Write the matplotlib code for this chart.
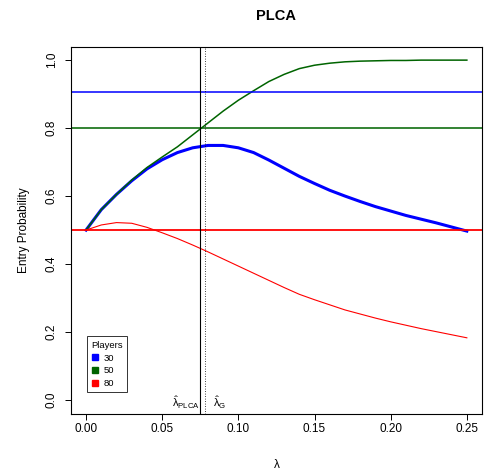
import numpy as np
import matplotlib.pyplot as plt
from matplotlib.lines import Line2D

plt.rcParams['font.family'] = ['Liberation Sans', 'DejaVu Sans']
plt.rcParams['mathtext.fontset'] = 'custom'
plt.rcParams['mathtext.rm'] = 'Liberation Sans'
plt.rcParams['mathtext.it'] = 'Liberation Sans'
plt.rcParams['mathtext.default'] = 'regular'

# lambda grid and entry probabilities
lam = [0.00, 0.01, 0.02, 0.03, 0.04, 0.05, 0.06, 0.07, 0.08, 0.09,
       0.10, 0.11, 0.12, 0.13, 0.14, 0.15, 0.16, 0.17, 0.18, 0.19,
       0.20, 0.21, 0.22, 0.23, 0.24, 0.25]
p30 = [0.500, 0.560, 0.605, 0.645, 0.680, 0.707, 0.728, 0.742, 0.749, 0.749,
       0.742, 0.728, 0.706, 0.682, 0.658, 0.637, 0.617, 0.600, 0.584, 0.569,
       0.556, 0.543, 0.532, 0.521, 0.509, 0.497]
p50 = [0.500, 0.560, 0.605, 0.647, 0.684, 0.715, 0.745, 0.780, 0.815, 0.850,
       0.882, 0.910, 0.937, 0.958, 0.975, 0.985, 0.991, 0.995, 0.997, 0.998,
       0.999, 0.999, 1.000, 1.000, 1.000, 1.000]
p80 = [0.500, 0.515, 0.522, 0.520, 0.508, 0.492, 0.475, 0.456, 0.436, 0.415,
       0.394, 0.373, 0.352, 0.331, 0.311, 0.295, 0.280, 0.265, 0.253, 0.241,
       0.230, 0.220, 0.210, 0.201, 0.192, 0.183]

# horizontal reference levels per player count
h30, h50, h80 = 0.906, 0.8, 0.5
lam_plca = 0.075
lam_g = 0.078

players = ['30', '50', '80']
colors = ['blue', 'darkgreen', 'red']

fig = plt.figure(figsize=(4.85, 4.7), dpi=100)
ax = fig.add_axes([0.146, 0.12, 0.848, 0.781])

ax.plot(lam, p30, color='blue', lw=2.2)
ax.plot(lam, p50, color='darkgreen', lw=1.1)
ax.plot(lam, p80, color='red', lw=0.8)

ax.axhline(h30, color='blue', lw=1.1)
ax.axhline(h50, color='darkgreen', lw=1.4, alpha=0.8)
ax.axhline(h80, color='red', lw=1.3)

ax.axvline(lam_plca, color='black', lw=0.8)
ax.axvline(lam_g, color='black', lw=0.6, ls=(0, (1, 2)))

ax.text(lam_plca, -0.02, r'$\hat{\lambda}_{PLCA}$', ha='right', va='baseline', fontsize=8)
ax.annotate(r'$\hat{\lambda}_{G}$', xy=(lam_g, -0.02), xytext=(6, 0), textcoords='offset points',
            ha='left', va='baseline', fontsize=8)

ax.set_xlim(-0.01, 0.26)
ax.set_ylim(-0.04, 1.04)
ax.set_xticks([0.0, 0.05, 0.10, 0.15, 0.20, 0.25])
ax.set_xticklabels(['0.00', '0.05', '0.10', '0.15', '0.20', '0.25'])
ax.set_yticks([0.0, 0.2, 0.4, 0.6, 0.8, 1.0])
ax.set_yticklabels(['0.0', '0.2', '0.4', '0.6', '0.8', '1.0'], rotation=90, va='center')
ax.tick_params(axis='both', direction='out', length=4.5, width=0.7, labelsize=8.5)
ax.tick_params(axis='x', pad=2)
ax.tick_params(axis='y', pad=5)
for s in ax.spines.values():
    s.set_linewidth(0.8)

ax.set_xlabel(r'$\lambda$', fontsize=8.5, labelpad=17)
ax.set_ylabel('Entry Probability', fontsize=8.5, labelpad=11)
ax.set_title('PLCA', fontweight='bold', fontsize=10.5, pad=19)

handles = [Line2D([], [], ls='none', marker='s', markersize=4, color=c) for c in colors]
leg = ax.legend(handles, players, title='Players', loc='lower left',
                bbox_to_anchor=(0.039, 0.058), borderaxespad=0, fontsize=6.8,
                title_fontsize=6.8, frameon=True, fancybox=False, handlelength=0.8,
                handletextpad=0.5, labelspacing=0.4, borderpad=0.45)
leg._legend_box.align = 'left'
leg.get_frame().set_edgecolor('black')
leg.get_frame().set_linewidth(0.7)

fig.savefig('out.png', dpi=100)
